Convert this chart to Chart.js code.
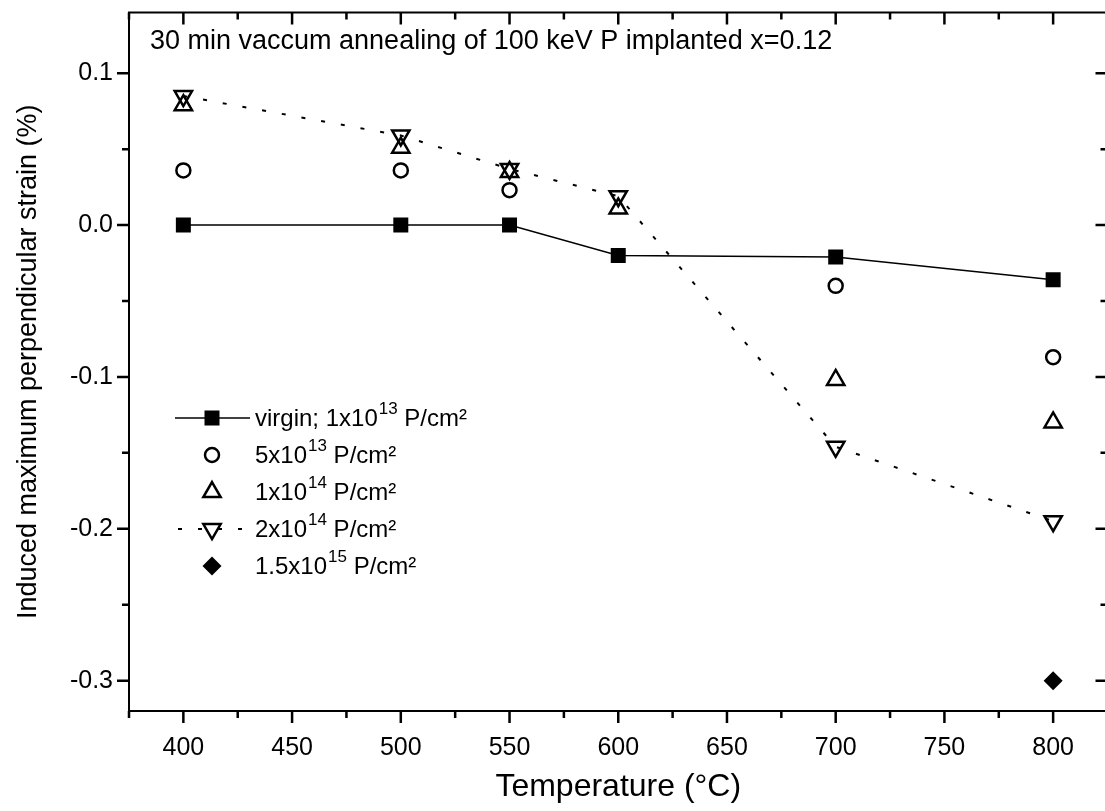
<!DOCTYPE html>
<html>
<head>
<meta charset="utf-8">
<script src="https://cdn.jsdelivr.net/npm/chart.js@4/dist/chart.umd.min.js"></script>
<style>
html, body { margin: 0; padding: 0; background: #fff; overflow: hidden; }
</style>
</head>
<body>
<canvas id="strain" width="1120" height="811"></canvas>
<script>
// annealing temperature (C)
const temps = [400, 500, 550, 600, 700, 800]
// induced strain (%) per implant dose
const virgin = [0.000, 0.000, 0.000, -0.020, -0.021, -0.036]
const dose5e13 = [0.036, 0.036, 0.023, null, -0.040, -0.087]
const dose1e14 = [0.079, 0.051, 0.035, 0.011, -0.102, -0.130]
const dose2e14 = [0.085, 0.059, 0.037, 0.019, -0.146, -0.195]
const dose15e15 = [null, null, null, null, null, -0.300]

const xTicks = [400, 450, 500, 550, 600, 650, 700, 750, 800]
const yTicks = [-0.3, -0.2, -0.1, 0.0, 0.1]
const legendNames = [
    ['virgin; 1x10', '13', ' P/cm²'],
    ['5x10', '13', ' P/cm²'],
    ['1x10', '14', ' P/cm²'],
    ['2x10', '14', ' P/cm²'],
    ['1.5x10', '15', ' P/cm²']
]
const note = '30 min vaccum annealing of 100 keV P implanted x=0.12'

const FONT = '"Liberation Sans", Arial, sans-serif'

function pts(arr){
    return temps.map((t, i) => ({x: t, y: arr[i]})).filter(p => p.y !== null)
}

function marker(ctx, kind, x, y){
    ctx.save()
    ctx.lineWidth = 2.5
    ctx.strokeStyle = '#000'
    ctx.fillStyle = '#000'
    ctx.beginPath()
    if(kind == 'rect'){
        ctx.fillRect(x - 7.5, y - 7.5, 15, 15)
    } else if(kind == 'circle'){
        ctx.arc(x, y, 7, 0, Math.PI * 2)
        ctx.stroke()
    } else if(kind == 'up' || kind == 'down'){
        let s = kind == 'up' ? 1 : -1
        ctx.moveTo(x, y - s * 10)
        ctx.lineTo(x + 8.66, y + s * 5)
        ctx.lineTo(x - 8.66, y + s * 5)
        ctx.closePath()
        ctx.stroke()
    } else if(kind == 'diamond'){
        ctx.moveTo(x, y - 9.5)
        ctx.lineTo(x + 9.5, y)
        ctx.lineTo(x, y + 9.5)
        ctx.lineTo(x - 9.5, y)
        ctx.closePath()
        ctx.fill()
    }
    ctx.restore()
}

const decor = {
    id: 'decor',
    afterDraw(chart){
        let ctx = chart.ctx
        let a = chart.chartArea
        let xs = chart.scales.x
        let ys = chart.scales.y
        ctx.save()
        ctx.strokeStyle = '#000'
        ctx.lineWidth = 2
        ctx.strokeRect(a.left, a.top, a.right - a.left, a.bottom - a.top)

        // ticks: outward on left/bottom, inward on top/right
        ctx.lineWidth = 2.5
        ctx.beginPath()
        for(let v = 375; v <= 825; v += 25){
            let px = xs.getPixelForValue(v)
            let len = (v % 50 == 0) ? 12 : 7
            ctx.moveTo(px, a.bottom); ctx.lineTo(px, a.bottom + len)
            ctx.moveTo(px, a.top); ctx.lineTo(px, a.top + len)
        }
        for(let k = -6; k <= 2; k++){
            let v = k * 0.05
            let py = ys.getPixelForValue(v)
            let len = (k % 2 == 0) ? 12 : 7
            ctx.moveTo(a.left, py); ctx.lineTo(a.left - len, py)
            ctx.moveTo(a.right, py); ctx.lineTo(a.right - len, py)
        }
        ctx.stroke()

        // note inside the frame
        ctx.fillStyle = '#000'
        ctx.font = '27px ' + FONT
        ctx.textBaseline = 'middle'
        ctx.textAlign = 'left'
        ctx.fillText(note, 150, 42)

        // legend
        let rows = [418, 455, 492, 529, 566]
        let kinds = ['rect', 'circle', 'up', 'down', 'diamond']
        for(let i = 0; i < rows.length; i++){
            let y = rows[i]
            if(i == 0){
                ctx.lineWidth = 1.5
                ctx.beginPath(); ctx.moveTo(175, y); ctx.lineTo(250, y); ctx.stroke()
            }
            if(i == 3){
                ctx.lineWidth = 2
                ctx.setLineDash([4, 16])
                ctx.beginPath(); ctx.moveTo(178, y); ctx.lineTo(250, y); ctx.stroke()
                ctx.setLineDash([])
            }
            marker(ctx, kinds[i], 212, y)
            let [base, sup, tail] = legendNames[i]
            let x = 255
            ctx.font = '24px ' + FONT
            ctx.fillText(base, x, y + 1)
            x += ctx.measureText(base).width + 1
            ctx.font = '17px ' + FONT
            ctx.fillText(sup, x, y - 9)
            x += ctx.measureText(sup).width
            ctx.font = '24px ' + FONT
            ctx.fillText(tail, x, y + 1)
        }
        ctx.restore()
    }
}

let canvas = document.getElementById('strain').getContext('2d')
let chart = new Chart(canvas, {
    type: 'line',
    data: {
        datasets: [
            {
                label: 'virgin; 1x10^13 P/cm2',
                data: pts(virgin),
                borderColor: '#000',
                borderWidth: 1.5,
                pointStyle: 'rect',
                pointRadius: 10.6,
                pointBackgroundColor: '#000',
                pointBorderWidth: 0
            },
            {
                label: '5x10^13 P/cm2',
                data: pts(dose5e13),
                showLine: false,
                borderColor: '#000',
                pointStyle: 'circle',
                pointRadius: 7,
                pointBorderWidth: 2.5,
                pointBackgroundColor: 'rgba(0,0,0,0)'
            },
            {
                label: '1x10^14 P/cm2',
                data: pts(dose1e14),
                showLine: false,
                borderColor: '#000',
                pointStyle: 'triangle',
                pointRadius: 10,
                pointBorderWidth: 2.5,
                pointBackgroundColor: 'rgba(0,0,0,0)'
            },
            {
                label: '2x10^14 P/cm2',
                data: pts(dose2e14),
                borderColor: '#000',
                borderWidth: 2,
                borderDash: [4, 16],
                pointStyle: 'triangle',
                pointRotation: 180,
                pointRadius: 10,
                pointBorderWidth: 2.5,
                pointBackgroundColor: 'rgba(0,0,0,0)'
            },
            {
                label: '1.5x10^15 P/cm2',
                data: pts(dose15e15),
                showLine: false,
                borderColor: '#000',
                pointStyle: 'rectRot',
                pointRadius: 9.5,
                pointBorderWidth: 0,
                pointBackgroundColor: '#000'
            }
        ]
    },
    options: {
        responsive: false,
        animation: false,
        layout: { padding: { top: 11, right: 11, left: 0, bottom: 0 } },
        plugins: { legend: { display: false }, tooltip: { enabled: false } },
        scales: {
            x: {
                type: 'linear',
                min: 375,
                max: 825,
                afterBuildTicks: s => { s.ticks = xTicks.map(v => ({value: v})) },
                afterFit: s => { s.height = 100; s.paddingLeft = 0; s.paddingRight = 0 },
                grid: { display: false },
                border: { display: false },
                ticks: { color: '#000', font: { family: FONT, size: 25 }, padding: 14, maxRotation: 0 },
                title: { display: true, text: 'Temperature (°C)', color: '#000', font: { family: FONT, size: 32 }, padding: { top: 0, bottom: 5 } }
            },
            y: {
                min: -0.32,
                max: 0.14,
                afterBuildTicks: s => { s.ticks = yTicks.map(v => ({value: v})) },
                afterFit: s => { s.width = 129; s.paddingTop = 0; s.paddingBottom = 0 },
                grid: { display: false },
                border: { display: false },
                ticks: { color: '#000', font: { family: FONT, size: 25 }, padding: 8, callback: v => v.toFixed(1) },
                title: { display: true, text: 'Induced maximum perpendicular strain (%)', color: '#000', font: { family: FONT, size: 27 }, padding: { top: 12, bottom: 0 } }
            }
        }
    },
    plugins: [decor]
})
</script>
</body>
</html>
